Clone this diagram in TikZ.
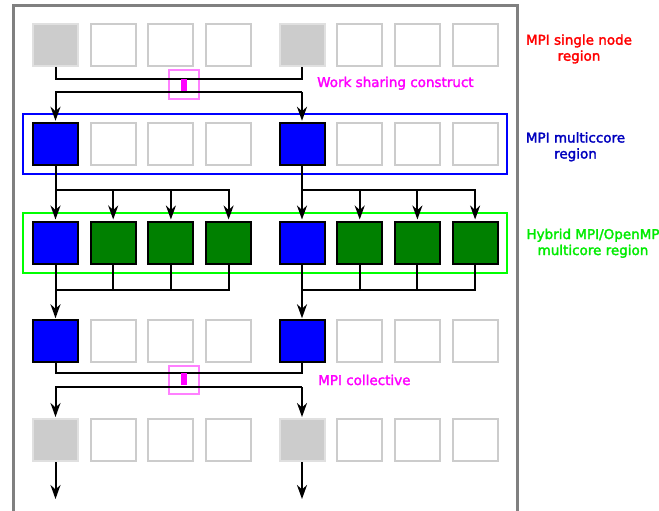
\documentclass[tikz,border=0pt]{standalone}
\usepackage{fontspec}
\setmainfont{DejaVu Sans}
\newfontfamily\lblfont{DejaVu Sans}[FakeBold=2.2]
\usetikzlibrary{arrows.meta,calc}
\definecolor{dgreen}{RGB}{0,128,0}
\definecolor{lgreen}{RGB}{0,255,0}
\definecolor{lblgreen}{RGB}{0,235,0}
\definecolor{lblblue}{RGB}{0,0,190}
\definecolor{pinkm}{RGB}{255,128,255}
\definecolor{mag}{RGB}{255,0,255}
\definecolor{rred}{RGB}{255,0,0}
\definecolor{bblue}{RGB}{0,0,255}
\definecolor{frameg}{RGB}{128,128,128}
\begin{document}
\begin{tikzpicture}[x=1pt,y=-1pt,
  cell/.style={minimum width=45pt,minimum height=42pt,inner sep=0pt,line width=2pt},
  emptycell/.style={cell,draw=black!20},
  graycell/.style={cell,fill=black!20,draw=black!12},
  bluecell/.style={cell,fill=bblue,draw=black},
  greencell/.style={cell,fill=dgreen,draw=black},
  conn/.style={line width=2pt,black},
  arrow/.style={conn,-{Stealth[length=14pt,width=10pt,inset=4.5pt]},shorten >=1pt},
  lbl/.style={font=\lblfont\fontsize{13.5}{16}\selectfont,align=center,inner sep=0pt},
  region/.style={line width=2pt},
  markbox/.style={draw=pinkm,line width=2pt,minimum width=30pt,minimum height=29pt,inner sep=0pt},
  markbar/.style={fill=mag,minimum width=6pt,minimum height=12pt,inner sep=0pt}
]
\useasboundingbox (0,0) rectangle (659,511);
\clip (0,0) rectangle (659,511);
\draw[frameg,line width=3pt] (13.5,6) rectangle (517,560);

% regions
\draw[region,draw=bblue] (23,114) rectangle (507,174);
\draw[region,draw=lgreen] (23,213) rectangle (507,273);

% cells
\foreach \r/\y/\ta/\tb in {1/45/graycell/emptycell,2/143.75/bluecell/emptycell,3/242.5/bluecell/greencell,4/341.25/bluecell/emptycell,5/440/graycell/emptycell}{
  \foreach \c/\x in {1/55.5,5/302}{\node[\ta] (r\r-\c) at (\x,\y) {};}
  \foreach \c/\x in {2/113.2,3/170.9,4/228.6,6/359.7,7/417.4,8/475.1}{\node[\tb] (r\r-\c) at (\x,\y) {};}
}

% work sharing construct
\node[markbox] (wsbox) at (183.5,85) {};
\coordinate (c1a) at ([yshift=-12pt]r1-1.south);
\coordinate (c1b) at ([yshift=-25pt]r1-1.south);
\draw[conn] (r1-1.south) -- (c1a) -| (r1-5.south);
\draw[arrow] (r2-5.north |- c1b) -- (c1b) -- (r2-1.north);
\draw[arrow] (r2-5.north |- c1b) -- (r2-5.north);
\node[markbar] (wsbar) at (184,85) {};

% fork to OpenMP
\foreach \a/\b/\cc/\d in {1/2/3/4,5/6/7/8}{
  \coordinate (f\a) at ([yshift=-24pt]r2-\a.south);
  \draw[arrow] (r2-\a.south) -- (r3-\a.north);
  \draw[arrow] (f\a) -| (r3-\d.north);
  \draw[arrow] (f\a -| r3-\b.north) -- (r3-\b.north);
  \draw[arrow] (f\a -| r3-\cc.north) -- (r3-\cc.north);
  \coordinate (j\a) at ([yshift=-25.5pt]r3-\a.south);
  \draw[conn] (r3-\d.south) |- (j\a);
  \draw[conn] (r3-\b.south) -- (r3-\b.south |- j\a);
  \draw[conn] (r3-\cc.south) -- (r3-\cc.south |- j\a);
  \draw[arrow] (r3-\a.south) -- (r4-\a.north);
}

% collective
\node[markbox,minimum height=28pt] (colbox) at (183.5,380) {};
\coordinate (c4a) at ([yshift=-10pt]r4-1.south);
\coordinate (c4b) at ([yshift=-24pt]r4-1.south);
\draw[conn] (r4-1.south) -- (c4a) -| (r4-5.south);
\draw[arrow] (r5-5.north |- c4b) -- (c4b) -- (r5-1.north);
\draw[arrow] (r5-5.north |- c4b) -- (r5-5.north);
\node[markbar] (colbar) at (183.5,379) {};

% outgoing
\coordinate (e1) at ([yshift=-38pt]r5-1.south);
\coordinate (e5) at ([yshift=-38pt]r5-5.south);
\draw[arrow] (r5-1.south) -- (e1);
\draw[arrow] (r5-5.south) -- (e5);

% labels (base anchor = last line)
\node[lbl,text=rred,anchor=base] (lsingle) at (579,60.7) {MPI single node\\region};
\node[lbl,text=mag,anchor=base west] (lwork) at (317,87) {Work sharing construct};
\node[lbl,text=lblblue,anchor=base] (lmulti) at (575.5,158.5) {MPI multiccore\\region};
\node[lbl,text=lblgreen,anchor=base] (lhybrid) at (593,255) {Hybrid MPI/OpenMP\\multicore region};
\node[lbl,text=mag,anchor=base west] (lcoll) at (318,385) {MPI collective};
\end{tikzpicture}
\end{document}
